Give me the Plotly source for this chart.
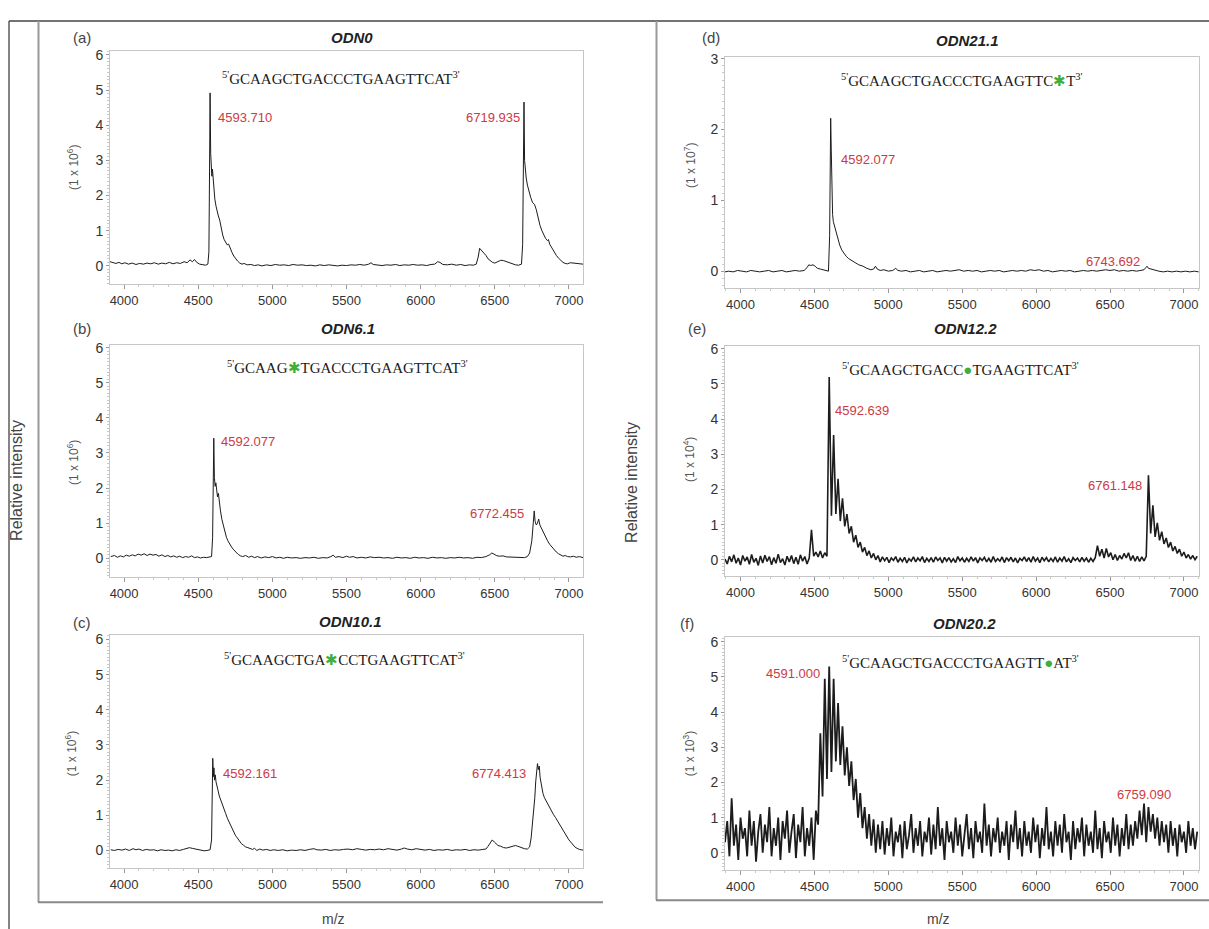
import numpy as np
import plotly.graph_objects as go

W, H = 1209, 929

# ---------------- data ----------------
panel_tags = ["(a)", "(b)", "(c)", "(d)", "(e)", "(f)"]
odn_names = ["ODN0", "ODN6.1", "ODN10.1", "ODN21.1", "ODN12.2", "ODN20.2"]
# '*' = green asterisk modification, '@' = green dot modification
sequences = ["GCAAGCTGACCCTGAAGTTCAT", "GCAAG*TGACCCTGAAGTTCAT", "GCAAGCTGA*CCTGAAGTTCAT",
             "GCAAGCTGACCCTGAAGTTC*T", "GCAAGCTGACC@TGAAGTTCAT", "GCAAGCTGACCCTGAAGTT@AT"]
scale_exponents = [6, 6, 6, 7, 4, 3]
peak_labels = [("4593.710", "6719.935"), ("4592.077", "6772.455"), ("4592.161", "6774.413"),
               ("4592.077", "6743.692"), ("4592.639", "6761.148"), ("4591.000", "6759.090")]
mz_ticks = [4000, 4500, 5000, 5500, 6000, 6500, 7000]

# (m/z, intensity)
odn0_spectrum = [(3905,0.12),(3925,0.1),(3945,0.07),(3965,0.1),(3985,0.06),(4005,0.09),(4030,0.05),(4055,0.08),(4080,0.04),(4105,0.07),
    (4130,0.05),(4155,0.08),(4180,0.06),(4205,0.09),(4230,0.05),(4255,0.08),(4280,0.06),(4305,0.1),(4330,0.06),(4355,0.09),
    (4380,0.07),(4405,0.12),(4425,0.09),(4445,0.17),(4460,0.12),(4475,0.18),(4490,0.1),(4510,0.05),(4530,0.03),(4550,0.02),
    (4565,0.05),(4572,0.4),(4576,2.5),(4580,4.92),(4584,3.2),(4588,2.75),(4592,2.55),(4596,2.75),(4600,2.5),(4606,2.1),
    (4612,1.9),(4620,1.7),(4628,1.5),(4636,1.42),(4645,1.3),(4655,1.05),(4665,0.88),(4675,0.75),(4685,0.65),(4695,0.6),
    (4705,0.62),(4715,0.5),(4728,0.38),(4740,0.28),(4752,0.2),(4765,0.14),(4780,0.08),(4795,0.05),(4810,0.07),(4830,0.03),
    (4855,0.04),(4880,0.01),(4905,0.03),(4930,0.0),(4960,0.03),(4990,0.01),(5020,0.04),(5050,0.02),(5080,0.03),(5110,0.01),
    (5140,0.04),(5170,0.02),(5200,0.03),(5230,0.01),(5260,0.02),(5290,0.0),(5320,0.03),(5350,0.01),(5380,0.03),(5410,0.02),
    (5440,0.0),(5470,0.02),(5500,0.01),(5530,0.03),(5560,0.02),(5590,0.04),(5620,0.02),(5650,0.05),(5665,0.09),(5680,0.04),
    (5710,0.03),(5740,0.01),(5770,0.03),(5800,0.02),(5830,0.04),(5860,0.01),(5890,0.03),(5920,0.02),(5950,0.04),(5980,0.02),
    (6010,0.03),(6040,0.01),(6070,0.04),(6095,0.05),(6115,0.12),(6130,0.1),(6150,0.04),(6180,0.03),(6210,0.05),(6240,0.02),
    (6270,0.04),(6300,0.01),(6330,0.03),(6355,0.02),(6375,0.05),(6388,0.25),(6398,0.5),(6408,0.45),(6418,0.42),(6428,0.35),
    (6440,0.3),(6455,0.2),(6470,0.15),(6485,0.1),(6500,0.08),(6520,0.13),(6540,0.16),(6560,0.15),(6580,0.12),(6600,0.08),
    (6620,0.04),(6640,0.03),(6660,0.02),(6680,0.05),(6688,0.6),(6693,2.5),(6697,4.66),(6701,3.0),(6705,2.7),(6712,2.5),
    (6720,2.3),(6730,2.1),(6742,1.95),(6755,1.8),(6768,1.75),(6780,1.6),(6792,1.35),(6805,1.15),(6818,1.0),(6830,0.88),
    (6843,0.78),(6855,0.72),(6862,0.75),(6870,0.62),(6885,0.5),(6900,0.4),(6915,0.3),(6930,0.22),(6945,0.15),(6960,0.1),
    (6975,0.07),(6990,0.06),(7010,0.09),(7030,0.08),(7050,0.09),(7070,0.06),(7095,0.05)]

odn6_spectrum = [(3910,0.05),(3935,0.08),(3955,0.03),(3975,0.07),(3995,0.04),(4015,0.09),(4035,0.06),(4055,0.1),(4075,0.07),(4095,0.12),
    (4115,0.09),(4135,0.13),(4155,0.08),(4175,0.12),(4195,0.09),(4215,0.11),(4235,0.06),(4255,0.1),(4275,0.05),(4295,0.08),
    (4315,0.04),(4335,0.07),(4355,0.03),(4375,0.06),(4395,0.02),(4415,0.05),(4435,0.03),(4455,0.07),(4475,0.02),(4495,0.04),
    (4515,0.01),(4535,0.03),(4555,0.02),(4575,0.04),(4590,0.05),(4597,0.6),(4601,2.4),(4605,3.42),(4609,2.3),(4614,2.05),
    (4619,2.15),(4624,1.95),(4630,1.75),(4636,1.85),(4642,1.6),(4650,1.35),(4660,1.1),(4670,0.9),(4680,0.74),(4690,0.6),
    (4700,0.5),(4712,0.4),(4725,0.32),(4740,0.24),(4755,0.16),(4770,0.11),(4785,0.07),(4800,0.05),(4820,0.08),(4840,0.03),
    (4860,0.06),(4880,0.02),(4900,0.05),(4925,0.01),(4950,0.04),(4975,0.02),(5000,0.05),(5025,0.01),(5050,0.03),(5075,0.0),
    (5100,0.03),(5130,0.01),(5160,0.02),(5190,0.0),(5220,0.02),(5250,0.01),(5280,0.03),(5310,0.0),(5340,0.02),(5370,0.01),
    (5395,0.05),(5410,0.09),(5425,0.03),(5450,0.05),(5475,0.02),(5500,0.06),(5520,0.03),(5545,0.05),(5570,0.01),(5600,0.03),
    (5630,0.01),(5660,0.04),(5690,0.02),(5720,0.03),(5750,0.01),(5780,0.02),(5810,0.0),(5840,0.03),(5870,0.01),(5900,0.02),
    (5930,0.0),(5960,0.03),(5990,0.01),(6020,0.02),(6050,0.0),(6080,0.03),(6110,0.01),(6140,0.02),(6170,0.0),(6200,0.02),
    (6230,0.01),(6260,0.03),(6290,0.01),(6320,0.02),(6350,0.0),(6380,0.03),(6410,0.02),(6440,0.05),(6465,0.1),(6480,0.15),
    (6495,0.12),(6510,0.08),(6530,0.06),(6555,0.07),(6580,0.04),(6610,0.03),(6640,0.02),(6670,0.03),(6700,0.02),(6720,0.05),
    (6735,0.15),(6750,0.5),(6760,0.95),(6766,1.35),(6772,1.05),(6780,0.95),(6788,1.0),(6796,1.12),(6804,0.95),(6815,0.85),
    (6828,0.72),(6842,0.6),(6856,0.5),(6870,0.4),(6885,0.32),(6900,0.24),(6915,0.18),(6930,0.13),(6945,0.09),(6960,0.06),
    (6975,0.08),(6990,0.05),(7010,0.04),(7030,0.06),(7050,0.03),(7070,0.05),(7095,0.02)]

odn10_spectrum = [(3910,0.02),(3935,0.0),(3960,0.03),(3985,0.01),(4010,0.04),(4035,0.0),(4060,0.05),(4080,0.02),(4100,0.04),(4125,0.0),
    (4150,0.03),(4175,0.01),(4200,0.02),(4225,-0.01),(4250,0.02),(4275,0.0),(4300,0.01),(4325,-0.01),(4350,0.02),(4375,0.0),
    (4400,0.03),(4420,0.05),(4440,0.08),(4460,0.06),(4480,0.04),(4500,0.02),(4520,0.0),(4540,-0.01),(4560,0.0),(4580,0.02),
    (4590,0.3),(4594,1.6),(4598,2.62),(4602,2.1),(4606,2.35),(4610,2.0),(4615,2.15),(4620,1.95),(4627,1.85),(4634,1.7),
    (4642,1.55),(4650,1.45),(4660,1.3),(4672,1.2),(4685,1.05),(4698,0.9),(4711,0.78),(4725,0.62),(4740,0.5),(4752,0.42),
    (4763,0.36),(4775,0.28),(4790,0.2),(4805,0.15),(4820,0.1),(4835,0.08),(4850,0.05),(4866,0.03),(4880,0.06),(4895,0.0),
    (4915,0.04),(4935,0.01),(4960,0.03),(4985,0.0),(5010,0.02),(5040,0.0),(5070,0.02),(5100,-0.01),(5130,0.01),(5160,0.0),
    (5190,0.02),(5220,0.0),(5250,0.03),(5280,0.05),(5300,0.02),(5330,0.01),(5360,0.03),(5390,0.0),(5420,0.02),(5450,0.01),
    (5480,0.03),(5510,0.04),(5540,0.02),(5570,0.05),(5600,0.03),(5630,0.01),(5660,0.03),(5690,0.02),(5720,0.04),(5750,0.02),
    (5780,0.05),(5810,0.03),(5840,0.01),(5870,0.04),(5890,0.07),(5910,0.04),(5940,0.02),(5970,0.05),(6000,0.03),(6030,0.01),
    (6060,0.03),(6090,0.0),(6120,0.02),(6150,0.01),(6180,0.03),(6210,0.0),(6240,0.02),(6270,0.01),(6300,0.03),(6330,0.0),
    (6360,0.02),(6390,0.01),(6420,0.03),(6440,0.04),(6455,0.12),(6470,0.24),(6483,0.3),(6497,0.24),(6510,0.18),(6522,0.14),
    (6540,0.12),(6560,0.08),(6580,0.07),(6600,0.09),(6620,0.12),(6638,0.14),(6655,0.12),(6677,0.08),(6700,0.05),(6720,0.04),
    (6735,0.1),(6745,0.35),(6755,0.75),(6762,1.1),(6770,1.5),(6776,1.95),(6782,2.3),(6788,2.47),(6794,2.3),(6800,2.4),
    (6806,2.07),(6815,1.85),(6825,1.62),(6835,1.5),(6845,1.42),(6857,1.32),(6870,1.2),(6883,1.1),(6896,1.02),(6909,0.94),
    (6922,0.85),(6935,0.75),(6948,0.65),(6960,0.56),(6975,0.45),(6990,0.36),(7000,0.3),(7012,0.24),(7025,0.16),(7040,0.1),
    (7055,0.06),(7070,0.03),(7095,0.01)]

odn21_spectrum = [(3895,-0.01),(3920,0.0),(3950,-0.01),(3980,0.01),(4010,0.0),(4040,-0.01),(4070,0.01),(4100,0.0),(4130,-0.01),(4160,0.0),
    (4190,0.01),(4220,-0.01),(4250,0.0),(4280,0.01),(4310,-0.01),(4340,0.0),(4370,0.01),(4400,0.0),(4430,0.01),(4450,0.05),
    (4462,0.09),(4475,0.08),(4490,0.09),(4505,0.07),(4520,0.04),(4540,0.03),(4555,0.02),(4575,0.01),(4595,0.0),(4603,0.5),
    (4606,1.6),(4610,2.16),(4614,1.7),(4618,1.1),(4623,0.8),(4628,0.7),(4634,0.65),(4640,0.6),(4648,0.52),(4658,0.44),
    (4671,0.37),(4685,0.3),(4700,0.25),(4715,0.21),(4730,0.18),(4750,0.15),(4776,0.12),(4800,0.09),(4829,0.07),(4855,0.04),
    (4882,0.02),(4900,0.03),(4913,0.07),(4925,0.03),(4945,0.01),(4970,0.02),(5000,0.0),(5030,0.01),(5050,0.04),(5065,0.01),
    (5090,0.0),(5120,0.01),(5150,-0.01),(5180,0.0),(5210,0.01),(5240,-0.01),(5270,0.0),(5300,0.01),(5330,-0.01),(5360,0.0),
    (5390,0.01),(5420,0.0),(5450,0.01),(5480,0.02),(5510,0.0),(5540,0.01),(5570,0.0),(5600,0.01),(5630,-0.01),(5660,0.0),
    (5690,0.01),(5720,0.0),(5750,0.01),(5780,-0.01),(5810,0.0),(5840,0.01),(5870,0.0),(5900,0.01),(5930,0.0),(5960,0.02),
    (5990,0.01),(6020,0.02),(6050,0.0),(6080,0.01),(6110,-0.01),(6140,0.0),(6170,0.01),(6200,0.0),(6230,0.01),(6260,-0.01),
    (6290,0.0),(6320,0.01),(6350,0.0),(6380,0.01),(6410,0.0),(6440,0.01),(6470,0.02),(6500,0.01),(6530,0.02),(6560,0.0),
    (6590,0.01),(6620,0.0),(6650,0.01),(6680,0.0),(6710,0.01),(6730,0.02),(6742,0.05),(6750,0.07),(6760,0.04),(6776,0.03),
    (6800,0.02),(6830,0.0),(6860,-0.01),(6890,0.0),(6920,-0.01),(6950,0.0),(6980,-0.01),(7010,0.0),(7040,-0.01),(7070,0.0),
    (7100,-0.01)]

# noisy spectra sampled every 15 m/z starting at 3895
noisy_mz_start = 3895
noisy_mz_step = 15
odn12_intensity = [
    0.02,-0.12,0.1,-0.06,0.14,-0.1,0.05,-0.15,0.12,-0.04,
    0.08,-0.13,0.15,-0.07,0.04,-0.16,0.11,-0.09,0.13,-0.05,
    0.09,-0.14,0.06,-0.1,0.16,-0.08,0.03,-0.15,0.1,-0.06,
    0.12,-0.11,0.07,-0.13,0.14,-0.04,0.09,-0.12,0.05,
    0.85,0.1,0.22,0.08,0.25,0.05,0.2,0.1,
    5.2,1.25,3.55,1.3,2.3,1.1,1.75,0.95,1.3,0.75,0.95,0.5,0.7,0.35,0.5,0.22,0.35,0.12,0.25,0.05,0.18,0.0,0.12,
    -0.06,0.08,-0.03,0.07,-0.08,0.05,-0.02,0.09,-0.07,0.04,
    -0.05,0.07,-0.09,0.03,-0.04,0.08,-0.06,0.05,-0.03,0.09,
    -0.08,0.04,-0.05,0.06,-0.07,0.08,-0.02,0.05,-0.09,0.07,
    -0.04,0.06,-0.06,0.03,-0.08,0.09,-0.03,0.05,-0.07,0.04,
    -0.05,0.08,-0.04,0.06,-0.09,0.05,-0.02,0.07,-0.06,0.04,
    -0.07,0.09,-0.05,0.03,-0.04,0.08,-0.08,0.06,-0.03,0.07,
    -0.06,0.05,-0.09,0.04,-0.02,0.08,-0.05,0.06,-0.07,0.09,
    -0.04,0.05,-0.08,0.07,-0.03,0.06,-0.06,0.04,-0.05,0.08,
    -0.07,0.05,-0.04,0.09,-0.06,0.03,-0.08,0.06,-0.02,0.05,
    -0.06,0.07,-0.04,0.05,-0.07,0.04,-0.05,0.06,
    0.4,0.1,0.3,0.05,0.32,0.08,0.2,0.0,0.15,-0.02,0.12,0.02,0.18,0.05,0.2,-0.02,0.12,-0.04,0.1,-0.05,0.08,-0.03,0.1,
    2.4,0.75,1.55,0.65,1.05,0.55,0.8,0.45,0.62,0.35,0.5,0.25,0.38,0.18,0.3,0.1,0.22,0.05,0.15,0.02,0.12,0.0,0.1]

odn20_intensity = [
    0.3,0.9,-0.1,1.55,0.2,0.8,-0.2,1.0,0.4,0.7,
    -0.1,1.2,0.2,0.9,-0.25,0.6,1.1,0.0,0.8,0.3,
    1.3,-0.1,0.7,0.2,1.0,-0.2,0.9,0.4,1.2,0.0,
    0.6,1.1,-0.15,0.8,0.3,1.3,-0.1,0.7,0.2,1.0,
    -0.2,1.2,0.8,3.4,1.6,4.95,2.1,5.3,2.3,4.95,2.6,4.26,2.5,3.6,2.2,3.0,1.9,2.6,1.5,2.1,
    1.0,1.7,0.7,1.3,0.4,1.1,0.2,0.95,0.0,0.8,
    0.1,0.9,-0.05,0.7,0.2,1.0,-0.1,0.6,0.3,0.8,
    -0.15,0.9,0.1,0.5,1.1,0.0,0.7,0.2,0.9,-0.1,
    0.6,0.3,1.0,-0.05,0.8,0.1,1.3,0.2,0.7,-0.2,
    0.9,0.3,0.6,0.0,1.0,0.2,0.8,-0.1,0.5,1.1,
    0.1,0.7,-0.15,0.9,0.3,0.6,0.0,1.4,0.2,0.8,
    -0.1,0.7,0.3,1.0,0.0,0.6,0.2,0.9,-0.2,0.8,
    0.3,1.2,0.1,0.7,-0.1,0.9,0.2,0.6,0.0,1.0,
    0.3,0.8,-0.15,0.7,0.2,1.3,0.1,0.6,-0.1,0.9,
    0.2,0.8,0.0,1.1,0.3,0.6,-0.2,0.9,0.1,0.7,
    0.3,1.0,-0.1,0.8,0.2,0.6,0.0,1.2,0.1,0.7,
    -0.15,0.9,0.3,0.6,0.0,1.0,0.2,0.8,-0.1,0.7,
    0.2,1.1,0.1,0.8,
    0.2,0.9,0.4,1.2,0.5,1.4,0.3,1.3,0.6,1.1,0.4,1.0,0.2,0.9,0.3,0.8,
    0.0,0.9,0.2,0.7,-0.1,0.8,0.3,0.6,0.0,0.9,0.2,0.7,0.1,0.6]


def unzip(pairs):
    return [p[0] for p in pairs], [p[1] for p in pairs]

def noisy(vals):
    mz = noisy_mz_start + noisy_mz_step * np.arange(len(vals))
    return list(mz), vals

spectra = [unzip(odn0_spectrum), unzip(odn6_spectrum), unzip(odn10_spectrum),
           unzip(odn21_spectrum), noisy(odn12_intensity), noisy(odn20_intensity)]

# ---------------- layout geometry (pixels) ----------------
def px(x): return x / W
def py(y): return 1 - y / H

boxes = [  # left, right, top, bottom in px
    (110, 583, 45, 280), (110, 583, 341, 575), (110, 583, 633, 868),
    (725, 1199, 51, 284), (725, 1199, 342, 574), (725, 1199, 635, 870)]
xranges = [[3905, 7095]] * 3 + [[3895, 7102]] * 3
yranges = [[-0.52, 6.12], [-0.54, 6.08], [-0.51, 6.13], [-0.24, 3.03], [-0.47, 6.085], [-0.5, 6.14]]
line_widths = [1, 1, 1, 1, 1.6, 1.8]

tag_pos = [(82, 32), (82, 325), (82, 621), (711, 32), (697, 325), (687, 622)]
title_pos = [(352, 32), (348, 325), (350, 620), (967, 35), (965, 325), (964, 622)]
seq_pos = [(341, 72), (347, 363), (344, 657), (962, 74), (961, 365), (960, 660)]
ytitle_pos = [(73, 163), (73, 460), (71, 753), (690, 160), (689, 457), (689, 753)]
label_pos = [
    ((216, 112, "left"), (522, 112, "right")),
    ((219, 438, "left"), (526, 511, "right")),
    ((221, 772, "left"), (528, 772, "right")),
    ((839, 154, "left"), (1113, 257, "center")),
    ((833, 407, "left"), (1144, 483, "right")),
    ((793, 672, "center"), (1144, 794, "center"))]

SANS = "Liberation Sans, Arial, sans-serif"
GREEN = "#3fae3a"
fig = go.Figure()
annotations = []
layout_axes = {}

def ann(x, y, text, size, color="#333", family=SANS, xanchor="center", angle=0):
    annotations.append(dict(x=px(x), y=py(y), xref="paper", yref="paper", text=text, showarrow=False,
                            xanchor=xanchor, yanchor="middle", textangle=angle,
                            font=dict(family=family, size=size, color=color)))

for i in range(6):
    n = "" if i == 0 else str(i + 1)
    mz, inten = spectra[i]
    fig.add_trace(go.Scatter(x=mz, y=inten, mode="lines", xaxis="x" + n, yaxis="y" + n,
                             line=dict(color="#1c1c1c", width=line_widths[i]), showlegend=False,
                             hoverinfo="skip"))
    l, r, t, b = boxes[i]
    layout_axes["xaxis" + n] = dict(
        domain=[px(l), px(r)], anchor="y" + n, range=xranges[i],
        tickmode="array", tickvals=mz_ticks, ticks="outside", ticklen=4, tickcolor="#999",
        minor=dict(dtick=100, tick0=4000, ticks="outside", ticklen=2, tickcolor="#c8c8c8"),
        showline=True, linecolor="#c6c6c6", linewidth=1, mirror=True,
        showgrid=False, zeroline=False,
        tickfont=dict(family=SANS, size=13, color="#333"))
    ymax = 3 if i == 3 else 6
    layout_axes["yaxis" + n] = dict(
        domain=[py(b), py(t)], anchor="x" + n, range=yranges[i],
        tickmode="array", tickvals=list(range(0, ymax + 1)), ticks="outside", ticklen=3, tickcolor="#999",
        minor=dict(dtick=0.1, tick0=0, ticks="outside", ticklen=2, tickcolor="#c8c8c8"),
        showline=True, linecolor="#c6c6c6", linewidth=1, mirror=True,
        showgrid=False, zeroline=False,
        tickfont=dict(family=SANS, size=14, color="#333"))

    ann(*tag_pos[i], panel_tags[i], 15, "#444")
    ann(*title_pos[i], "<b><i>%s</i></b>" % odn_names[i], 15, "#222")
    seq = sequences[i].replace("*", "<span style='color:%s'>✱</span>" % GREEN)
    seq = seq.replace("@", "<span style='color:%s'>●</span>" % GREEN)
    ann(*seq_pos[i], "<sup>5'</sup>" + seq + "<sup>3'</sup>", 15, "#1a1a1a",
        family="Liberation Serif, Times New Roman, serif")
    ann(*ytitle_pos[i], "(1 x 10<sup>%d</sup>)" % scale_exponents[i], 12, "#555", angle=-90)
    for (lx, ly, anc), txt in zip(label_pos[i], peak_labels[i]):
        ann(lx, ly, txt, 13, "#cc3a44", xanchor=anc)

for (x, y, txt, size, ang) in [(17, 478, "Relative intensity", 16, -90), (632, 480, "Relative intensity", 16, -90),
                               (333, 919, "m/z", 14, 0), (938, 919, "m/z", 14, 0)]:
    ann(x, y, txt, size, "#444", angle=ang)

def line(x0, y0, x1, y1, color, width):
    return dict(type="line", xref="paper", yref="paper", x0=px(x0), y0=py(y0), x1=px(x1), y1=py(y1),
                line=dict(color=color, width=width))

shapes = [
    line(9, 15, 1209, 15, "#444", 1.5),
    line(9, 15, 9, 929, "#333", 1.2),
    line(38.5, 15, 38.5, 902, "#999", 2),
    line(38, 902, 603, 902, "#888", 2),
    line(656.5, 15, 656.5, 900, "#999", 2),
    line(656, 900, 1209, 900, "#888", 2),
]

fig.update_layout(width=W, height=H, margin=dict(l=0, r=0, t=0, b=0),
                  paper_bgcolor="white", plot_bgcolor="white",
                  annotations=annotations, shapes=shapes, **layout_axes)

fig.write_html(
    "out.html",
    config={"displayModeBar": False, "staticPlot": True},
    post_script=("document.body.style.margin='0px';document.body.style.overflow='hidden';"
                 "var gd=document.getElementById('{plot_id}');gd.style.position='absolute';"
                 "gd.style.top='0px';gd.style.left='0px';"))
